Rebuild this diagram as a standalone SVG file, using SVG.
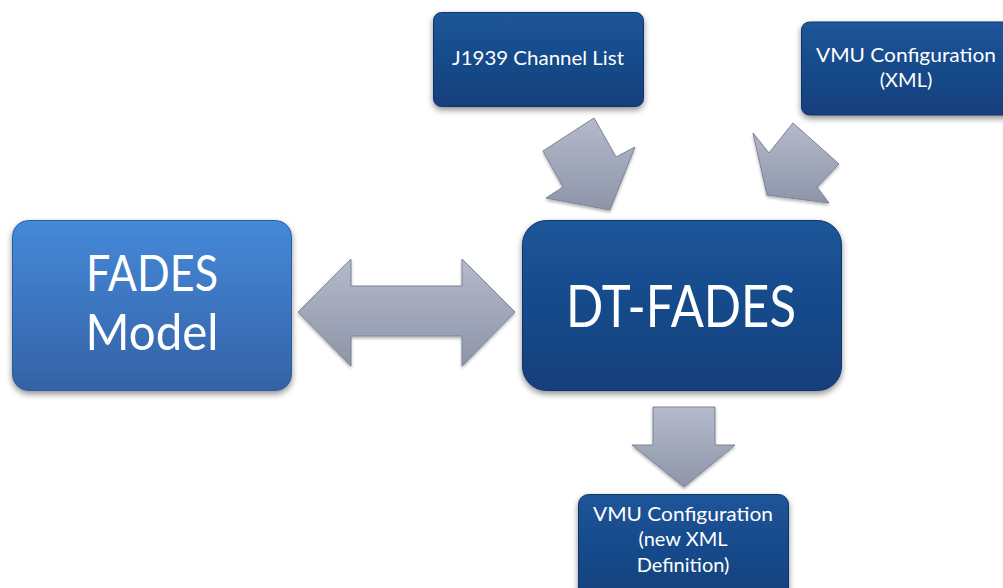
<svg xmlns="http://www.w3.org/2000/svg" width="1003" height="588" viewBox="0 0 1003 588">
  <defs>
    <linearGradient id="gDark" x1="0" y1="0" x2="0" y2="1">
      <stop offset="0" stop-color="#1c5599"/>
      <stop offset="1" stop-color="#143f7c"/>
    </linearGradient>
    <linearGradient id="gLight" x1="0" y1="0" x2="0" y2="1">
      <stop offset="0" stop-color="#4589d9"/>
      <stop offset="1" stop-color="#3462a6"/>
    </linearGradient>
    <linearGradient id="gArrow" x1="0" y1="0" x2="0" y2="1">
      <stop offset="0" stop-color="#b4bacb"/>
      <stop offset="1" stop-color="#8e95a9"/>
    </linearGradient>
    <filter id="shadow" x="-10%" y="-10%" width="120%" height="130%">
      <feGaussianBlur in="SourceAlpha" stdDeviation="3"/>
      <feOffset dx="0" dy="3" result="b"/>
      <feComponentTransfer><feFuncA type="linear" slope="0.45"/></feComponentTransfer>
      <feMerge><feMergeNode/><feMergeNode in="SourceGraphic"/></feMerge>
    </filter>
    <filter id="ashadow" x="-10%" y="-10%" width="120%" height="130%">
      <feGaussianBlur in="SourceAlpha" stdDeviation="1.5"/>
      <feOffset dx="0" dy="2"/>
      <feComponentTransfer><feFuncA type="linear" slope="0.3"/></feComponentTransfer>
      <feMerge><feMergeNode/><feMergeNode in="SourceGraphic"/></feMerge>
    </filter>
  </defs>
  <style>
    .dark { fill: url(#gDark); stroke: #10356a; stroke-width: 1; filter: url(#shadow); }
    .light { fill: url(#gLight); stroke: #2f5d9e; stroke-width: 1; filter: url(#shadow); }
    .arrow { fill: url(#gArrow); stroke: #7d8396; stroke-width: 1; stroke-linejoin: miter; filter: url(#ashadow); }
    .t { font-family: Lato, "Open Sans", "Liberation Sans", sans-serif; fill: #ffffff; text-anchor: middle; }
    .s { font-size: 20px; }
    .b { font-size: 50px; }
    .xb { font-size: 58px; }
  </style>

  <g id="connectors">
    <polygon class="arrow" points="298,312 351,259 351,286 462,286 462,259 515,312 462,366 462,336 351,336 351,366"/>
    <polygon class="arrow" points="543,151 594,118 616,157 635,147 610,210 546,198 563,187"/>
    <polygon class="arrow" points="753,133 769,153 793,123 839,164 817,187 829,203 767,195"/>
    <polygon class="arrow" points="653,407 715,407 715,445 735,445 684,487 632,445 653,445"/>
  </g>

  <g id="j1939">
    <rect class="dark" x="433.5" y="12.5" width="210" height="94" rx="8"/>
    <text class="t s" x="538" y="65" textLength="172" lengthAdjust="spacingAndGlyphs">J1939 Channel List</text>
  </g>

  <g id="vmu-xml">
    <rect class="dark" x="801.5" y="22" width="215" height="93" rx="8"/>
    <text class="t s" x="906" y="62" textLength="180" lengthAdjust="spacingAndGlyphs">VMU Configuration</text>
    <text class="t s" x="906" y="87">(XML)</text>
  </g>

  <g id="fades-model">
    <rect class="light" x="12.5" y="220.5" width="279" height="170" rx="16"/>
    <text class="t b" x="152" y="291" textLength="132" lengthAdjust="spacingAndGlyphs">FADES</text>
    <text class="t b" x="152" y="350" textLength="133" lengthAdjust="spacingAndGlyphs">Model</text>
  </g>

  <g id="dt-fades">
    <rect class="dark" x="522.5" y="220.5" width="319" height="170" rx="24"/>
    <text class="t xb" x="681" y="327" textLength="230" lengthAdjust="spacingAndGlyphs">DT-FADES</text>
  </g>

  <g id="vmu-new">
    <rect class="dark" x="578.5" y="494.5" width="210" height="110" rx="10"/>
    <text class="t s" x="683" y="521" textLength="180" lengthAdjust="spacingAndGlyphs">VMU Configuration</text>
    <text class="t s" x="683" y="546">(new XML</text>
    <text class="t s" x="683" y="572">Definition)</text>
  </g>
</svg>
